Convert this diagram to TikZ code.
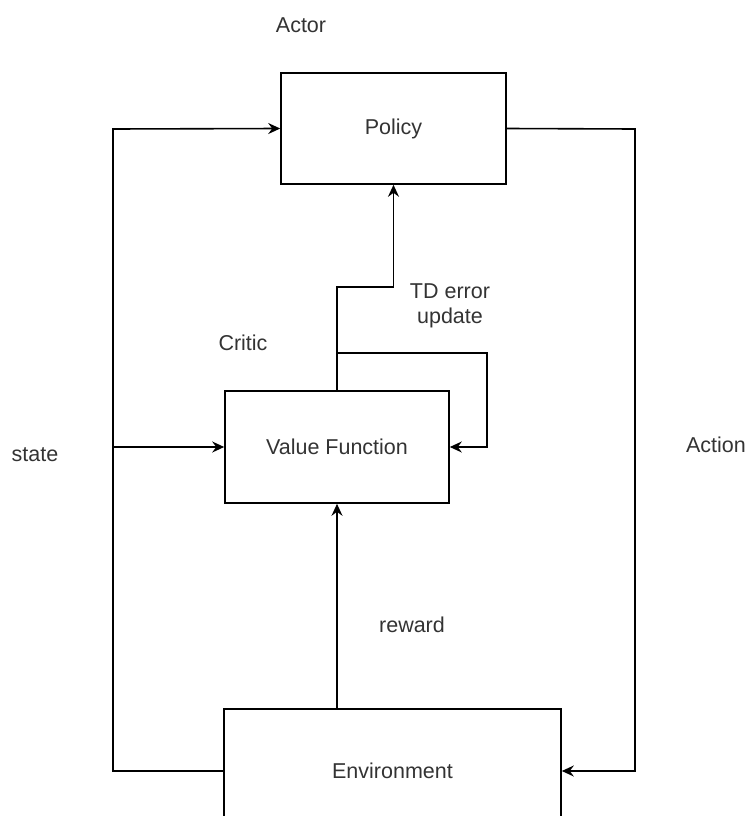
\documentclass[tikz,border=0pt]{standalone}
\usepackage{fontspec}
\setmainfont{Liberation Sans}
\usetikzlibrary{arrows.meta}
\begin{document}
\begin{tikzpicture}[x=1pt,y=-1pt,
  box/.style={draw=black, line width=1.6pt, minimum width=#1, inner sep=0pt,
    font=\fontsize{21.5}{25}\selectfont, text=black!80},
  lbl/.style={font=\fontsize{21.5}{25}\selectfont, text=black!80, align=center, inner sep=0pt},
  conn/.style={draw=black, line width=1.6pt},
  arr/.style={conn, -{Stealth[length=12pt,width=11pt,inset=4pt]}}]
\useasboundingbox (0,0) rectangle (745,816);
\clip (0,0) rectangle (745,816);

% blocks
\node[box=225pt, minimum height=111pt] (policy) at (393.5,128.5) {Policy};
\node[box=224pt, minimum height=112pt] (vf) at (337,447) {Value Function};
\node[box=337pt, minimum height=124pt] (env) at (392.5,771) {Environment};

% routing points
\coordinate (sx) at (113,129);
\coordinate (ax) at (635,129);
\coordinate (bend) at (337,287);
\coordinate (jn) at (337,353);
\coordinate (lx) at (487,353);

% state feedback to actor and critic
\draw[arr] (env.west) -| (sx) -- (policy.west);
\draw[arr] (sx |- vf.west) -- (vf.west);

% action to the environment
\draw[arr] (policy.east) -- (ax) |- (env.east);

% reward to the critic
\draw[arr] (vf.south |- env.north) -- (vf.south);

% TD error to actor and back to critic
\draw[arr] (vf.north) -- (bend) -| (policy.south);
\draw[arr] (jn) -- (lx) |- (vf.east);

% labels
\node[lbl] (actor) at (301,25) {Actor};
\node[lbl] (critic) at (243,343) {Critic};
\node[lbl] (td) at (450,306) {TD error\\update};
\node[lbl] (state) at (35,455) {state};
\node[lbl] (action) at (716,445) {Action};
\node[lbl] (reward) at (412,625) {reward};
\end{tikzpicture}
\end{document}
